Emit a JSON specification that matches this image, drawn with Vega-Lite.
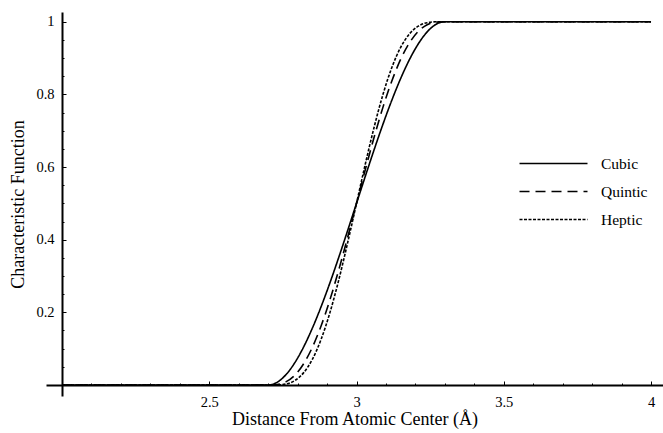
{
  "$schema": "https://vega.github.io/schema/vega-lite/v6.json",
  "width": 617,
  "height": 384,
  "autosize": {"type": "none"},
  "padding": {"left": 46, "top": 12, "right": 0, "bottom": 37},
  "background": "white",
  "config": {"view": {"stroke": null}, "font": "Liberation Serif"},
  "data": {
    "values": [
      {"x": 2.0, "Cubic": 0, "Quintic": 0, "Heptic": 0},
      {"x": 2.7, "Cubic": 0, "Quintic": 0, "Heptic": 0},
      {"x": 2.73, "Cubic": 0.00725, "Quintic": 0.00116, "Heptic": 0.00019},
      {"x": 2.76, "Cubic": 0.028, "Quintic": 0.00856, "Heptic": 0.00273},
      {"x": 2.79, "Cubic": 0.06075, "Quintic": 0.02661, "Heptic": 0.0121},
      {"x": 2.82, "Cubic": 0.104, "Quintic": 0.05792, "Heptic": 0.03334},
      {"x": 2.85, "Cubic": 0.15625, "Quintic": 0.10352, "Heptic": 0.07056},
      {"x": 2.88, "Cubic": 0.216, "Quintic": 0.16308, "Heptic": 0.12604},
      {"x": 2.91, "Cubic": 0.28175, "Quintic": 0.23517, "Heptic": 0.19985},
      {"x": 2.94, "Cubic": 0.352, "Quintic": 0.31744, "Heptic": 0.28979},
      {"x": 2.97, "Cubic": 0.42525, "Quintic": 0.40687, "Heptic": 0.39171},
      {"x": 3.0, "Cubic": 0.5, "Quintic": 0.5, "Heptic": 0.5},
      {"x": 3.03, "Cubic": 0.57475, "Quintic": 0.59313, "Heptic": 0.60829},
      {"x": 3.06, "Cubic": 0.648, "Quintic": 0.68256, "Heptic": 0.71021},
      {"x": 3.09, "Cubic": 0.71825, "Quintic": 0.76483, "Heptic": 0.80015},
      {"x": 3.12, "Cubic": 0.784, "Quintic": 0.83692, "Heptic": 0.87396},
      {"x": 3.15, "Cubic": 0.84375, "Quintic": 0.89648, "Heptic": 0.92944},
      {"x": 3.18, "Cubic": 0.896, "Quintic": 0.94208, "Heptic": 0.96666},
      {"x": 3.21, "Cubic": 0.93925, "Quintic": 0.97339, "Heptic": 0.9879},
      {"x": 3.24, "Cubic": 0.972, "Quintic": 0.99144, "Heptic": 0.99727},
      {"x": 3.27, "Cubic": 0.99275, "Quintic": 0.99884, "Heptic": 0.99981},
      {"x": 3.3, "Cubic": 1, "Quintic": 1, "Heptic": 1},
      {"x": 4.0, "Cubic": 1, "Quintic": 1, "Heptic": 1}
    ]
  },
  "transform": [{"fold": ["Cubic", "Quintic", "Heptic"], "as": ["Function", "value"]}],
  "mark": {"type": "line", "interpolate": "monotone", "color": "black", "strokeWidth": 1.6},
  "encoding": {
    "x": {
      "field": "x",
      "type": "quantitative",
      "scale": {"domain": [1.9457, 4.0407], "nice": false, "zero": false},
      "axis": {
        "title": "Distance From Atomic Center (Å)",
        "offset": -11,
        "values": [2.1, 2.2, 2.3, 2.4, 2.5, 2.6, 2.7, 2.8, 2.9, 3.0, 3.1, 3.2, 3.3, 3.4, 3.5, 3.6, 3.7, 3.8, 3.9, 4.0],
        "labelExpr": "abs(datum.value*2-round(datum.value*2))<0.001 ? format(datum.value, '~g') : ''",
        "grid": false,
        "domainColor": "black",
        "domainWidth": 2,
        "tickColor": "black",
        "tickWidth": 1,
        "tickSize": {"condition": {"test": "abs(datum.value*2-round(datum.value*2))<0.001", "value": -4}, "value": -2},
        "labelFont": "Liberation Serif",
        "labelFontSize": 14.5,
        "labelColor": "black",
        "labelPadding": 14,
        "labelFlush": false,
        "labelOverlap": false,
        "titleFont": "Liberation Serif",
        "titleFontSize": 18,
        "titleFontWeight": "normal",
        "titleColor": "black",
        "titlePadding": 0
      }
    },
    "y": {
      "field": "value",
      "type": "quantitative",
      "scale": {"domain": [-0.0303, 1.0267], "nice": false, "zero": false},
      "axis": {
        "title": "Characteristic Function",
        "offset": -16,
        "values": [0.05, 0.1, 0.15, 0.2, 0.25, 0.3, 0.35, 0.4, 0.45, 0.5, 0.55, 0.6, 0.65, 0.7, 0.75, 0.8, 0.85, 0.9, 0.95, 1.0],
        "labelExpr": "abs(datum.value*5-round(datum.value*5))<0.001 ? format(datum.value, '~g') : ''",
        "grid": false,
        "domainColor": "black",
        "domainWidth": 2,
        "tickColor": "black",
        "tickWidth": 1,
        "tickSize": {"condition": {"test": "abs(datum.value*5-round(datum.value*5))<0.001", "value": -4}, "value": -2},
        "labelFont": "Liberation Serif",
        "labelFontSize": 14.5,
        "labelColor": "black",
        "labelPadding": 12,
        "labelFlush": false,
        "labelOverlap": false,
        "titleFont": "Liberation Serif",
        "titleFontSize": 18,
        "titleFontWeight": "normal",
        "titleColor": "black",
        "titlePadding": 8
      }
    },
    "strokeDash": {
      "field": "Function",
      "type": "nominal",
      "scale": {"domain": ["Cubic", "Quintic", "Heptic"], "range": [[1, 0], [10, 6], [3, 1.5]]},
      "legend": {
        "orient": "none",
        "legendX": 498,
        "legendY": 142,
        "title": null,
        "padding": 0,
        "rowPadding": 10,
        "symbolType": "M-4,0H4",
        "symbolSize": 289,
        "symbolStrokeColor": "black",
        "symbolStrokeWidth": 1.6,
        "labelFont": "Liberation Serif",
        "labelFontSize": 15.5,
        "labelColor": "black",
        "labelOffset": 38
      }
    }
  }
}
